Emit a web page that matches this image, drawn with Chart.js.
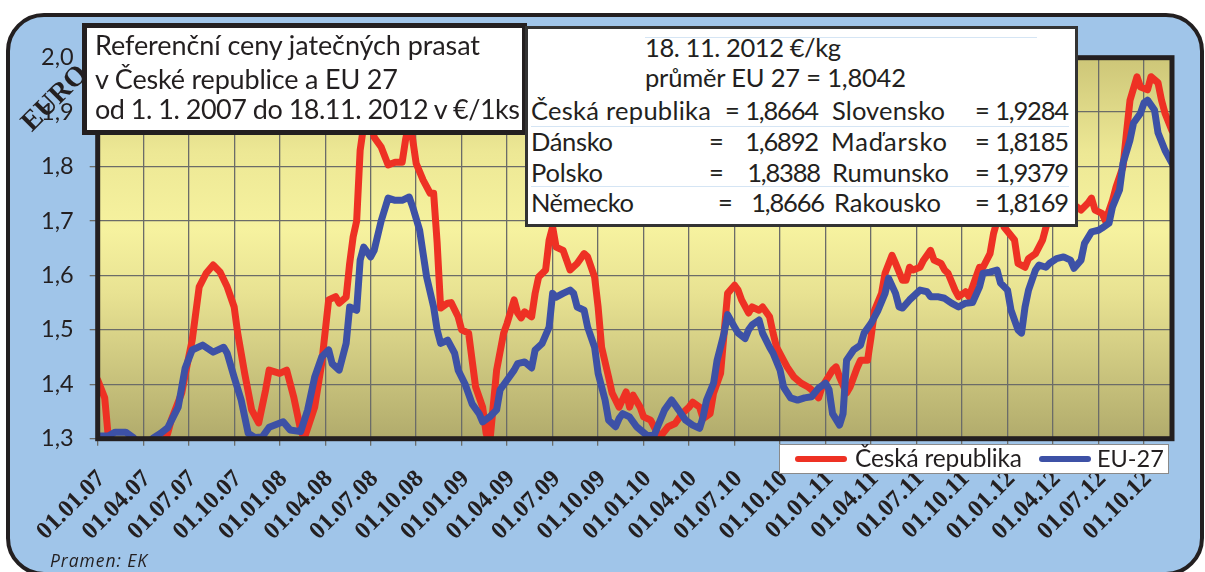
<!DOCTYPE html>
<html lang="cs">
<head>
<meta charset="utf-8">
<script src="https://cdn.jsdelivr.net/npm/chart.js@4.4.1/dist/chart.umd.min.js"></script>
<style>
  html, body { margin: 0; padding: 0; background: #ffffff; }
  #wrap { position: relative; width: 1205px; height: 572px; overflow: hidden; background: #fff; }
  #frame { position: absolute; left: 6px; top: 13px; width: 1198px; height: 563px; box-sizing: border-box;
           border: 4px solid #231F20; border-radius: 38px; background: #A0C5E9; }
  #c { position: absolute; left: 0; top: 0; }
  .t { position: absolute; white-space: nowrap; color: #231F20; line-height: 1; }
  .box { position: absolute; box-sizing: border-box; background: #fff; }
  .rule { position: absolute; height: 1px; background: #D5E5F4; }
</style>
</head>
<body>
<div id="wrap">
  <div id="frame"></div>
  <canvas id="c" width="1205" height="572"></canvas>
  <div id="overlay"></div>
</div>
<script>
// ---------- DATA ----------
const tickLabels = ['01.01.07','01.04.07','01.07.07','01.10.07','01.01.08','01.04.08','01.07.08','01.10.08',
  '01.01.09','01.04.09','01.07.09','01.10.09','01.01.10','01.04.10','01.07.10','01.10.10',
  '01.01.11','01.04.11','01.07.11','01.10.11','01.01.12','01.04.12','01.07.12','01.10.12'];
const weeksPerTick = 13;
const yTickValues = [1.3, 1.4, 1.5, 1.6, 1.7, 1.8, 1.9, 2.0];

// Česká republika: week index since 01.01.2007 and price (€/kg)
const czWeeks = [0,2,3,5,10,15,19,20,21,24,26,27,29,31,33,35,37,39,40,42,44,46,48,49,52,54,56,58,59,62,64,66,68,69,71,72,73,74,75,77,79,81,83,85,87,88,89,90,91,93,95,96,97,98,
  100,101,103,104,106,107,108,110,111,112,113,114,116,117,119,120,121,122,124,125,126,128,129,130,131,133,135,137,139,140,142,143,144,146,147,149,151,152,153,155,156,158,
  160,161,163,165,167,169,170,172,173,175,176,178,179,180,182,183,184,186,187,189,190,192,193,194,196,197,199,201,203,204,206,207,210,211,212,214,215,217,218,220,221,222,224,225,227,228,
  230,231,232,233,235,236,238,239,241,242,243,245,246,248,249,251,252,253,255,256,257,258,259,262,263,265,266,268,270,271,273,276,279,281,283,284,285,287,288,290,291,293,294,295,297,298,
  300,301,303,304,305,307];
const czValues = [1.408,1.375,1.305,1.28,1.27,1.28,1.295,1.31,1.334,1.384,1.45,1.481,1.579,1.604,1.619,1.606,1.579,1.542,1.494,1.42,1.353,1.329,1.39,1.426,1.42,1.426,1.377,1.316,1.30,1.358,1.438,1.555,1.561,1.549,1.56,1.622,1.671,1.70,1.83,1.92,1.854,1.836,1.803,1.808,1.808,1.85,1.88,1.85,1.806,1.775,1.751,1.751,1.66,1.54,
  1.549,1.55,1.524,1.50,1.494,1.444,1.395,1.358,1.31,1.29,1.358,1.426,1.494,1.512,1.555,1.531,1.522,1.533,1.524,1.567,1.597,1.61,1.665,1.689,1.652,1.646,1.61,1.622,1.64,1.634,1.597,1.542,1.468,1.413,1.384,1.358,1.386,1.358,1.38,1.358,1.34,1.334,
  1.31,1.306,1.322,1.328,1.346,1.358,1.367,1.358,1.337,1.346,1.384,1.42,1.494,1.567,1.582,1.573,1.555,1.531,1.542,1.536,1.542,1.524,1.494,1.468,1.444,1.432,1.413,1.402,1.395,1.39,1.375,1.395,1.426,1.432,1.413,1.384,1.395,1.43,1.444,1.444,1.487,1.536,1.567,1.604,1.637,1.622,
  1.591,1.591,1.615,1.61,1.615,1.628,1.646,1.628,1.622,1.61,1.604,1.573,1.561,1.57,1.561,1.597,1.615,1.615,1.64,1.677,1.70,1.72,1.689,1.665,1.622,1.615,1.631,1.64,1.665,1.689,1.72,1.73,1.73,1.72,1.733,1.742,1.72,1.714,1.70,1.738,1.762,1.80,1.862,1.922,1.965,1.946,
  1.941,1.965,1.954,1.922,1.898,1.866];

// EU-27
const euWeeks = [0,3,5,8,10,12,14,16,18,20,23,25,27,30,33,36,37,39,41,43,45,47,49,53,55,58,60,62,64,66,67,69,71,72,74,75,76,78,79,81,83,85,87,89,90,92,93,94,96,97,98,99,
  100,102,103,105,107,109,110,112,114,115,117,119,120,122,124,125,127,129,130,131,133,135,136,137,139,140,142,143,145,146,148,149,150,152,154,157,159,
  160,162,164,166,168,170,172,173,174,176,177,179,180,182,183,185,186,187,189,190,192,193,195,196,198,200,202,204,206,208,209,210,212,213,214,216,218,219,221,223,225,226,228,229,
  230,232,233,235,237,238,240,242,244,246,248,250,252,253,255,257,258,260,261,263,264,265,266,268,269,271,272,274,276,278,279,281,282,284,286,287,289,290,292,293,295,296,298,299,
  300,302,303,305,307];
const euValues = [1.305,1.305,1.312,1.312,1.303,1.29,1.29,1.302,1.31,1.32,1.358,1.43,1.463,1.472,1.459,1.468,1.457,1.413,1.371,1.31,1.302,1.303,1.321,1.331,1.316,1.313,1.353,1.413,1.45,1.463,1.438,1.426,1.475,1.542,1.536,1.628,1.652,1.634,1.646,1.70,1.742,1.738,1.738,1.744,1.726,1.683,1.64,1.597,1.542,1.50,1.475,1.478,
  1.481,1.457,1.426,1.40,1.364,1.346,1.331,1.34,1.353,1.39,1.408,1.426,1.438,1.441,1.43,1.463,1.475,1.505,1.567,1.56,1.567,1.573,1.567,1.542,1.536,1.505,1.468,1.42,1.371,1.334,1.322,1.337,1.346,1.34,1.322,1.306,1.306,
  1.322,1.353,1.371,1.353,1.334,1.325,1.319,1.34,1.371,1.402,1.444,1.494,1.528,1.505,1.494,1.484,1.50,1.509,1.518,1.494,1.468,1.457,1.426,1.395,1.375,1.371,1.375,1.377,1.393,1.402,1.39,1.346,1.325,1.346,1.444,1.463,1.472,1.494,1.512,1.536,1.567,1.595,1.567,1.542,
  1.54,1.555,1.561,1.573,1.57,1.561,1.561,1.558,1.549,1.542,1.549,1.55,1.579,1.604,1.606,1.61,1.586,1.573,1.536,1.50,1.494,1.542,1.573,1.61,1.619,1.615,1.622,1.631,1.634,1.628,1.613,1.628,1.659,1.68,1.683,1.687,1.696,1.726,1.757,1.806,1.849,1.88,1.898,1.917,
  1.922,1.904,1.862,1.83,1.806];

const lastWeek = 307;
const seriesNames = ['Česká republika', 'EU-27'];
const seriesColors = ['#EE3124', '#3D51A6'];

// ---------- LAYOUT ----------
const AREA = { left: 97.7, top: 57.7, right: 1172, bottom: 438.7 };
const W = 1205, H = 572;

const bgPlugin = {
  id: 'plotBg',
  beforeDraw(chart) {
    const { ctx, chartArea: a } = chart;
    const g = ctx.createLinearGradient(0, a.top, 0, a.bottom);
    g.addColorStop(0, '#CDC678');
    g.addColorStop(0.25, '#EDE895');
    g.addColorStop(0.45, '#F6F29F');
    g.addColorStop(0.62, '#E8E292');
    g.addColorStop(1, '#B1AB6C');
    ctx.save();
    ctx.fillStyle = g;
    ctx.fillRect(a.left, a.top, a.right - a.left, a.bottom - a.top);
    ctx.restore();
  }
};
const framePlugin = {
  id: 'plotFrame',
  afterDatasetsDraw(chart) {
    const { ctx, chartArea: a } = chart;
    ctx.save();
    ctx.strokeStyle = '#231F20';
    ctx.lineWidth = 5;
    ctx.strokeRect(a.left, a.top, a.right - a.left, a.bottom - a.top);
    ctx.restore();
  }
};

function toPoints(ws, vs) { return ws.map((w, i) => ({ x: w, y: vs[i] })); }

function draw() {
  new Chart(document.getElementById('c').getContext('2d'), {
    type: 'line',
    data: {
      datasets: [
        { label: seriesNames[0], data: toPoints(czWeeks, czValues), borderColor: seriesColors[0], backgroundColor: seriesColors[0],
          borderWidth: 7, pointRadius: 0, tension: 0, clip: 0, order: 1, borderJoinStyle: 'round', borderCapStyle: 'round' },
        { label: seriesNames[1], data: toPoints(euWeeks, euValues), borderColor: seriesColors[1], backgroundColor: seriesColors[1],
          borderWidth: 7, pointRadius: 0, tension: 0, clip: 0, order: 0, borderJoinStyle: 'round', borderCapStyle: 'round' }
      ]
    },
    options: {
      responsive: false, animation: false, devicePixelRatio: 1,
      layout: { padding: { left: 0, top: AREA.top, right: W - AREA.right, bottom: 0 } },
      plugins: { legend: { display: false }, tooltip: { enabled: false } },
      scales: {
        x: {
          type: 'linear', min: 0, max: lastWeek,
          afterBuildTicks: s => { s.ticks = tickLabels.map((l, i) => ({ value: i * weeksPerTick })); },
          afterFit: s => { s.height = H - AREA.bottom; },
          border: { display: false },
          grid: { color: '#6B6C68', lineWidth: 1.3, tickLength: 7, drawTicks: true },
          ticks: {
            autoSkip: false, maxRotation: 45, minRotation: 45, padding: 19, labelOffset: 4,
            color: '#231F20', font: { family: '"Liberation Serif", "Times New Roman", serif', weight: 'bold', size: 24.5 },
            callback: (v) => tickLabels[Math.round(v / weeksPerTick)]
          }
        },
        y: {
          min: 1.3, max: 2.0,
          afterBuildTicks: s => { s.ticks = yTickValues.map(v => ({ value: v })); },
          afterFit: s => { s.width = AREA.left; },
          border: { display: false },
          grid: { color: '#6B6C68', lineWidth: 1.3, tickLength: 8, drawTicks: true },
          ticks: {
            padding: 16, color: '#231F20', font: { family: 'Lato, "Open Sans", sans-serif', size: 23.5 },
            callback: v => v.toFixed(1).replace('.', ',')
          }
        }
      }
    },
    plugins: [bgPlugin, framePlugin]
  });
}

// ---------- OVERLAY TEXT ----------
const ov = document.getElementById('overlay');
function box(l, t, w, h, border) {
  const d = document.createElement('div');
  d.className = 'box';
  Object.assign(d.style, { left: l + 'px', top: t + 'px', width: w + 'px', height: h + 'px', border });
  ov.appendChild(d); return d;
}
function rule(l, t, w) {
  const d = document.createElement('div');
  d.className = 'rule';
  Object.assign(d.style, { left: l + 'px', top: t + 'px', width: w + 'px' });
  ov.appendChild(d);
}
// text placed by its baseline; optional target width fitted through letter spacing
function txt(s, x, baseline, size, opt = {}) {
  const d = document.createElement('div');
  d.className = 't';
  d.textContent = s;
  const fam = opt.family || 'Lato, "Open Sans", sans-serif';
  Object.assign(d.style, { left: x + 'px', top: (baseline - 0.887 * size) + 'px', fontSize: size + 'px', fontFamily: fam });
  if (opt.weight) d.style.fontWeight = opt.weight;
  if (opt.italic) d.style.fontStyle = 'italic';
  ov.appendChild(d);
  if (opt.width) {
    const w = d.getBoundingClientRect().width;
    const n = Math.max(1, s.length - 1);
    d.style.letterSpacing = ((opt.width - w) / n) + 'px';
  }
  if (opt.right) d.style.transform = 'translateX(-100%)';
  if (opt.rotate) { d.style.transformOrigin = '0 ' + (0.887 * size) + 'px'; d.style.transform = 'rotate(' + opt.rotate + 'deg)'; }
  return d;
}

function buildOverlay() {
  // EURO axis caption (partly under title box)
  txt('EURO', 33, 134, 28, { family: '"Liberation Serif", "Times New Roman", serif', weight: 'bold', rotate: -45 });

  // Title box
  box(82, 23, 445, 112, '5px solid #231F20');
  const titleLines = ['Referenční ceny jatečných prasat', 'v České republice a EU 27', 'od 1. 1. 2007 do 18.11. 2012 v €/1ks'];
  const titleBase = [55, 89, 119];
  const titleWidth = [385, 303, 425];
  titleLines.forEach((s, i) => txt(s, 95, titleBase[i], 27, { width: titleWidth[i] }));

  // Info box
  box(525, 26, 553, 201, '3px solid #333');
  rule(645, 37, 392); rule(531, 126, 538); rule(531, 186, 538);
  const infoHead = ['18. 11. 2012 €/kg', 'průměr EU 27 = 1,8042'];
  txt(infoHead[0], 645, 58, 25.5, { width: 196 });
  txt(infoHead[1], 645, 88, 25.5, { width: 261 });
  const infoRows = [
    ['Česká republika', '1,8664', 'Slovensko', '1,9284'],
    ['Dánsko', '1,6892', 'Maďarsko', '1,8185'],
    ['Polsko', '1,8388', 'Rumunsko', '1,9379'],
    ['Německo', '1,8666', 'Rakousko', '1,8169']
  ];
  const rowBase = [121, 152, 183, 213];
  const labelW = [180, 82, 72, 103];
  const eqX = [725, 709, 709, 718];
  const valEnd1 = [818, 818, 820, 824];
  const label2W = [113, 116, 117, 107];
  const label2X = [832, 831, 832, 834];
  infoRows.forEach((r, i) => {
    const b = rowBase[i];
    txt(r[0], 531, b, 25.5, { width: labelW[i] });
    txt('=', eqX[i], b, 25.5);
    txt(r[1], valEnd1[i], b, 25.5, { right: true, width: 74 });
    txt(r[2], label2X[i], b, 25.5, { width: label2W[i] });
    txt('=', 975, b, 25.5);
    txt(r[3], 1068, b, 25.5, { right: true, width: 74 });
  });

  // Legend
  box(779, 444, 390, 30, '1.5px solid #8A8A8A');
  const sw1 = document.createElement('div');
  Object.assign(sw1.style, { position: 'absolute', left: '795px', top: '456px', width: '52px', height: '6px', borderRadius: '3px', background: seriesColors[0] });
  ov.appendChild(sw1);
  txt(seriesNames[0], 855, 468, 24.5, { width: 167 });
  const sw2 = document.createElement('div');
  Object.assign(sw2.style, { position: 'absolute', left: '1039px', top: '456px', width: '52px', height: '6px', borderRadius: '3px', background: seriesColors[1] });
  ov.appendChild(sw2);
  txt(seriesNames[1], 1097, 468, 23.5);

  // Source
  txt('Pramen: EK', 50, 568, 17.5, { italic: true, family: '"Open Sans", Lato, sans-serif', width: 97 });
}

Promise.all([
  document.fonts.load('23px Lato'),
  document.fonts.load('bold 22px "Liberation Serif"'),
  document.fonts.load('italic 17px "Open Sans"')
]).then(() => { buildOverlay(); draw(); }, () => { buildOverlay(); draw(); });
</script>
</body>
</html>
